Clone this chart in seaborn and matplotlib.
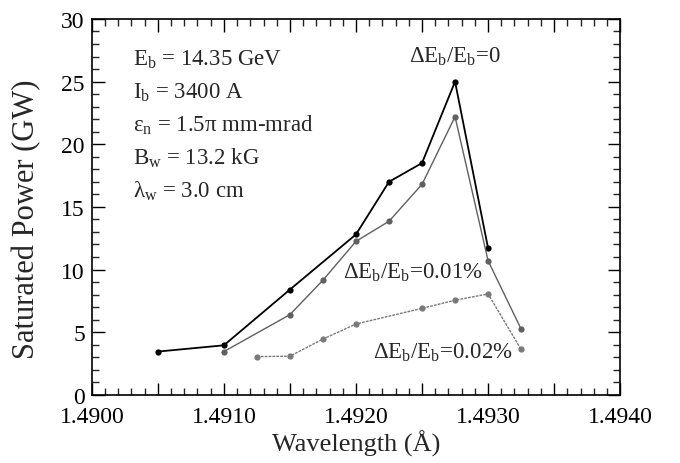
import matplotlib
matplotlib.use("Agg")
import matplotlib.pyplot as plt
import numpy as np
import pandas as pd
import seaborn as sns
from matplotlib.ticker import MultipleLocator, FuncFormatter

# saturated power vs wavelength for three energy spreads
wl_0 = [1.4905, 1.4910, 1.4915, 1.4920, 1.49225, 1.4925, 1.49275, 1.4930]
pw_0 = [3.45, 3.95, 8.4, 12.8, 17.0, 18.5, 25.0, 11.7]

wl_01 = [1.4910, 1.4915, 1.49175, 1.4920, 1.49225, 1.4925, 1.49275, 1.4930, 1.49325]
pw_01 = [3.45, 6.4, 9.15, 12.25, 13.85, 16.8, 22.2, 10.7, 5.25]

wl_02 = [1.49125, 1.4915, 1.49175, 1.4920, 1.4925, 1.49275, 1.4930, 1.49325]
pw_02 = [3.05, 3.08, 4.45, 5.65, 6.9, 7.55, 8.05, 3.62]

sns.set_style("ticks")
plt.rcParams.update(
    {
        "font.family": ["Liberation Serif", "DejaVu Serif"],
        "mathtext.fontset": "custom",
        "mathtext.rm": "Liberation Serif",
        "mathtext.it": "Liberation Serif:italic",
        "font.size": 16,
        "xtick.direction": "in",
        "ytick.direction": "in",
        "xtick.top": True,
        "ytick.right": True,
    }
)

fig = plt.figure(figsize=(6.8, 4.64), dpi=100)
ax = fig.add_axes([0.135, 0.147, 0.777, 0.81])

series = [
    (wl_0, pw_0, "#000000", 1.3, "-"),
    (wl_01, pw_01, "#606060", 1.0, "-"),
    (wl_02, pw_02, "#7a7a7a", 1.0, (0, (2, 0.8))),
]
for wl, pw, col, lw, ls in series:
    df = pd.DataFrame({"wl": wl, "pw": pw})
    sns.lineplot(
        data=df, x="wl", y="pw", color=col, linewidth=lw, linestyle=ls,
        marker="o", markersize=4.5, markeredgewidth=0, markerfacecolor=col,
        sort=False, ax=ax,
    )

ax.set_xlim(1.4900, 1.4940)
ax.set_ylim(0, 30)
ax.xaxis.set_major_locator(MultipleLocator(0.0005))
ax.xaxis.set_minor_locator(MultipleLocator(0.0001))
ax.xaxis.set_major_formatter(
    FuncFormatter(lambda v, p: f"{v:.4f}" if round(v * 10000) % 10 == 0 else "")
)
ax.yaxis.set_major_locator(MultipleLocator(5))
ax.yaxis.set_minor_locator(MultipleLocator(1))
ax.tick_params(which="major", length=9, width=1, labelsize=17, colors="black")
ax.tick_params(which="minor", length=5, width=1)
ax.tick_params(axis="x", pad=8)
ax.tick_params(axis="y", pad=5)
for s in ax.spines.values():
    s.set_linewidth(1.2)
    s.set_color("black")

ax.set_xlabel("Wavelength (Å)", fontsize=19, labelpad=2)
ax.set_ylabel("Saturated Power (GW)", fontsize=22)
ax.yaxis.set_label_coords(-0.095, 0.47)

params = [
    r"E$_\mathrm{b}$ = 14.35 GeV",
    r"I$_\mathrm{b}$ = 3400 A",
    r"ε$_\mathrm{n}$ = 1.5π mm-mrad",
    r"B$_\mathrm{w}$ = 13.2 kG",
    r"λ$_\mathrm{w}$ = 3.0 cm",
]
for i, t in enumerate(params):
    ax.text(0.078, 0.895 - i * 0.088, t, transform=ax.transAxes,
            fontsize=16.5, ha="left", va="center")

ax.text(1.49275, 26.2, r"ΔE$_\mathrm{b}$/E$_\mathrm{b}$=0", fontsize=16.5,
        ha="center", va="bottom")
ax.text(1.49190, 9.8, r"ΔE$_\mathrm{b}$/E$_\mathrm{b}$=0.01%", fontsize=16.5,
        ha="left", va="center")
ax.text(1.49213, 3.4, r"ΔE$_\mathrm{b}$/E$_\mathrm{b}$=0.02%", fontsize=16.5,
        ha="left", va="center")

fig.savefig("out.png", dpi=100, facecolor="white")
